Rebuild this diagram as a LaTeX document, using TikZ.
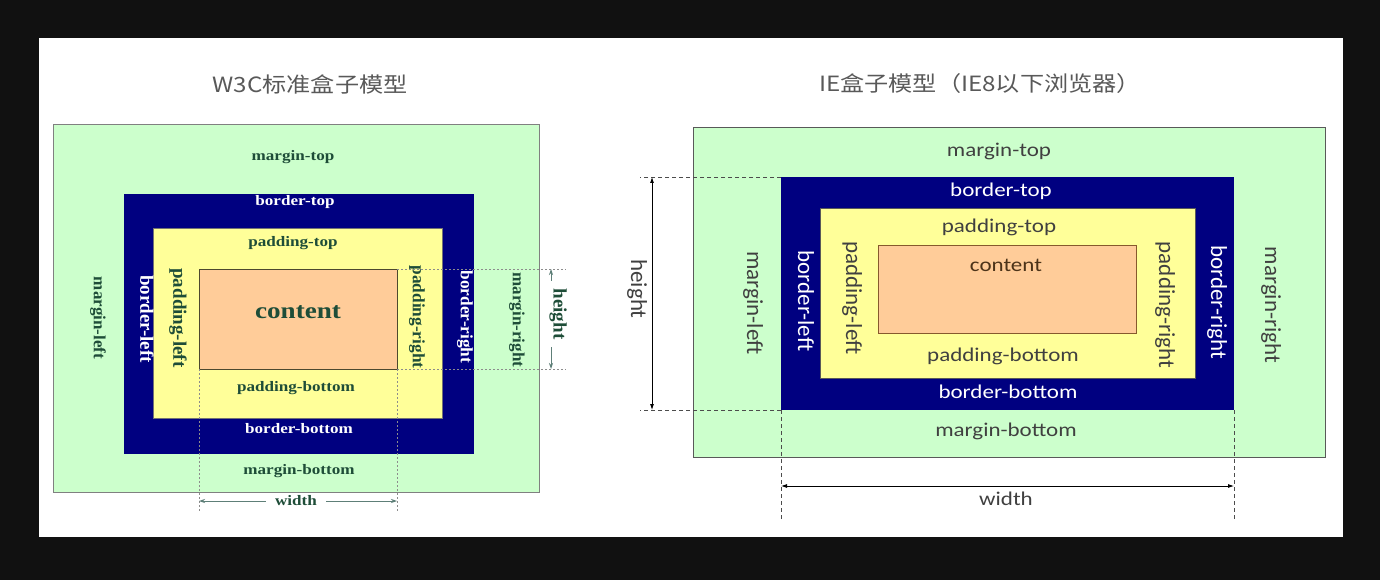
\documentclass[tikz,border=0pt]{standalone}
\usepackage{fontspec}
\setmainfont{Liberation Serif}
\newfontfamily\calf{Carlito}
\newfontfamily\cjkf{Noto Sans CJK SC}
\usepackage{tikz}
\usetikzlibrary{arrows.meta}
\definecolor{mgreen}{HTML}{CCFFCC}
\definecolor{bnavy}{HTML}{000080}
\definecolor{pyellow}{HTML}{FFFF99}
\definecolor{cpeach}{HTML}{FFCC99}
\definecolor{txtgreen}{HTML}{1E4D38}
\definecolor{dimteal}{HTML}{5E7F78}
\definecolor{bgblack}{HTML}{111111}
\definecolor{txtgray}{HTML}{404040}

\begin{document}
\begin{tikzpicture}[x=1pt,y=-1pt,
	box/.style={inner sep=0pt,outer sep=0pt},
	ttl/.style={font=\cjkf\fontsize{21}{21}\selectfont,text=black!65,xscale=1.15},
	wh/.style={font=\bfseries\fontsize{14.5}{14.5}\selectfont,text=txtgreen,xscale=1.18,inner sep=1pt},
	wv/.style={font=\bfseries\fontsize{#1}{#1}\selectfont,text=txtgreen,rotate=-90,inner sep=1pt},
	ih/.style={font=\calf\fontsize{19.5}{19.5}\selectfont,text=txtgray,xscale=1.18,inner sep=1pt},
	iv/.style={font=\calf\fontsize{#1}{#1}\selectfont,text=txtgray,rotate=-90,inner sep=1pt},
	wdash/.style={draw=black!45,dash pattern=on 2pt off 2pt,line width=0.6pt},
	idash/.style={draw=black!70,dash pattern=on 4pt off 3pt,line width=0.8pt},
	warr/.style={draw=dimteal,<->,>={Stealth[length=6pt,width=4pt]},line width=0.8pt},
	iarr/.style={draw=black,<->,>={Latex[length=6pt,width=4pt]},line width=0.8pt}]

\fill[bgblack] (0,0) rectangle (1380,580);
\fill[white] (39,38) rectangle (1343,537);

\node[ttl] (t1) at (310,84) {W3C标准盒子模型};
\node[ttl] (t2) at (980,84) {IE盒子模型（IE8以下浏览器）};

% W3C box
\node[box,fill=mgreen,draw=black!50,line width=1pt,minimum width=486pt,minimum height=367pt] (wm) at (296,308.5) {};
\node[box,fill=bnavy,minimum width=350pt,minimum height=260pt] (wb) at (299,324) {};
\node[box,fill=pyellow,draw=black!55,line width=0.6pt,minimum width=289pt,minimum height=190pt] (wp) at (297.5,323) {};
\node[box,fill=cpeach,draw=black!60!olive,line width=0.8pt,minimum width=198pt,minimum height=100pt] (wc) at (298,319) {};

\node[wh] (wmt) at (293,157) {margin-top};
\node[wh,text=white] (wbt) at (295,202) {border-top};
\node[wh] (wpt) at (293,243) {padding-top};
\node[wh,font=\bfseries\fontsize{23}{23}\selectfont] (wct) at (298,312) {content};
\node[wh] (wpb) at (296,388) {padding-bottom};
\node[wh,text=white] (wbb) at (299,429) {border-bottom};
\node[wh] (wmb) at (299,471) {margin-bottom};
\node[wv=17] (wml) at (98,318) {margin-left};
\node[wv=19,text=white] (wbl) at (147,319) {border-left};
\node[wv=19] (wpl) at (178,318) {padding-left};
\node[wv=17.3] (wpr) at (417,317) {padding-right};
\node[wv=17.3,text=white] (wbr) at (465,317) {border-right};
\node[wv=17] (wmr) at (517,320) {margin-right};

\coordinate (hT) at (566,269);
\coordinate (hB) at (566,369);
\coordinate (wL) at (199,511);
\coordinate (wR) at (397,511);
\draw[wdash] (wc.north east) -- (hT);
\draw[wdash] (wc.south east) -- (hB);
\draw[wdash] (wc.south west) -- (wL);
\draw[wdash] (wc.south east) -- (wR);

\coordinate (wa1) at (199,501);
\coordinate (wa2) at (397,501);
\draw[warr] (wa1) -- (wa2);
\node[wh,fill=white,inner xsep=8pt] (wwd) at (296,501) {width};
\coordinate (ha1) at (551,269);
\coordinate (ha2) at (551,369);
\draw[warr] (ha1) -- (ha2);
\node[wv=19,fill=white,inner xsep=8pt] (wht) at (558,314) {height};

% IE box
\node[box,fill=mgreen,draw=black!65,line width=1pt,minimum width=632pt,minimum height=329pt] (im) at (1009,292.5) {};
\node[box,fill=bnavy,minimum width=453pt,minimum height=233pt] (ib) at (1007.5,293.5) {};
\node[box,fill=pyellow,draw=black!65,line width=0.8pt,minimum width=375pt,minimum height=170pt] (ip) at (1007.5,293) {};
\node[box,fill=cpeach,draw=brown!70!black,line width=1pt,minimum width=258pt,minimum height=88pt] (ic) at (1007,289) {};

\node[ih] (imt) at (999,151) {margin-top};
\node[ih,text=white] (ibt) at (1001,191) {border-top};
\node[ih] (ipt) at (999,227) {padding-top};
\node[ih,text=brown!40!black] (ict) at (1006,265) {content};
\node[ih] (ipb) at (1003,356) {padding-bottom};
\node[ih,text=white] (ibb) at (1008,392) {border-bottom};
\node[ih] (imb) at (1006,431) {margin-bottom};
\node[iv=23] (iml) at (753,303) {margin-left};
\node[iv=23,text=white] (ibl) at (806,301) {border-left};
\node[iv=23] (ipl) at (852,298) {padding-left};
\node[iv=23] (ipr) at (1165,305) {padding-right};
\node[iv=23,text=white] (ibr) at (1217,302) {border-right};
\node[iv=23] (imr) at (1271,305) {margin-right};

\coordinate (iT) at (640,177);
\coordinate (iB) at (640,410);
\coordinate (iL) at (781,521);
\coordinate (iR) at (1234,521);
\draw[idash] (ib.north west) -- (iT);
\draw[idash] (ib.south west) -- (iB);
\draw[idash] (ib.south west) -- (iL);
\draw[idash] (ib.south east) -- (iR);

\coordinate (ih1) at (652,177);
\coordinate (ih2) at (652,410);
\draw[iarr] (ih1) -- (ih2);
\node[iv=23] (iht) at (637,289) {height};
\coordinate (iw1) at (781,486);
\coordinate (iw2) at (1234,486);
\draw[iarr] (iw1) -- (iw2);
\node[ih] (iwd) at (1006,499) {width};
\end{tikzpicture}
\end{document}
